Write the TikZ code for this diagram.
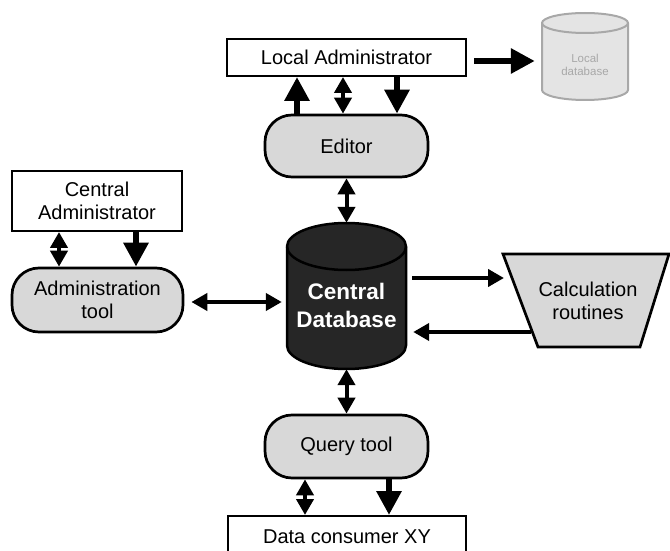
\documentclass[tikz,border=0pt]{standalone}
\usepackage{fontspec}
\setmainfont{Liberation Sans}
\usetikzlibrary{arrows.meta,calc}
\definecolor{boxgray}{HTML}{D8D8D8}
\definecolor{dbdark}{HTML}{262626}
\definecolor{ldbline}{HTML}{A8A8A8}
\definecolor{ldbfill}{HTML}{E4E4E4}
\begin{document}
\begin{tikzpicture}[x=1pt,y=1pt,
  every node/.style={font=\fontsize{20}{23.5}\selectfont, align=center, inner sep=0pt},
  plainbox/.style={draw, line width=2pt, fill=white},
  roundbox/.style={draw, line width=2.7pt, fill=boxgray, rounded corners=27pt},
  thickarr/.style={line width=6pt, -{Triangle[length=24pt,width=24pt]}},
  dblarr/.style={line width=4pt, {Triangle[length=16pt,width=17pt]}-{Triangle[length=16pt,width=17pt]}},
  thinarr/.style={line width=4.5pt, -{Triangle[length=16pt,width=17pt]}},
  ghost/.style={draw=none, fill=none},
]
\clip (0,0) rectangle (670,550);

% Local database cylinder (grey)
\draw[draw=ldbline, fill=ldbfill, line width=2pt]
  (542,527) -- (542,460) arc[start angle=180, end angle=360, x radius=43, y radius=10]
  -- (628,527) arc[start angle=0, end angle=180, x radius=43, y radius=10] -- cycle;
\draw[draw=ldbline, line width=2pt]
  (542,527) arc[start angle=180, end angle=360, x radius=43, y radius=10];
\node[ghost, minimum width=86, minimum height=87] (ldb) at (585,493.5) {};
\node[text=ldbline, font=\fontsize{11.5}{13}\selectfont] (ldbt) at (585,485) {Local\\database};

% Central database cylinder (dark)
\draw[draw=black, fill=dbdark, line width=2.5pt]
  (287,303.5) -- (287,204.5) arc[start angle=180, end angle=360, x radius=59.5, y radius=23.5]
  -- (406,303.5) arc[start angle=0, end angle=180, x radius=59.5, y radius=23.5] -- cycle;
\draw[draw=black, line width=2.5pt]
  (287,303.5) arc[start angle=180, end angle=360, x radius=59.5, y radius=23.5];
\node[ghost, minimum width=119, minimum height=146] (cdb) at (346.5,254) {};
\node[text=white, font=\fontsize{22.5}{28}\selectfont\bfseries] (cdbt) at (346.5,245) {Central\\Database};

% Calculation routines trapezoid
\draw[fill=boxgray, line width=2.7pt, line join=miter]
  (503,296) -- (669,296) -- (640,203) -- (538,203) -- cycle;
\node (calc) at (588,249) {Calculation\\routines};
\coordinate (calcin) at (504,272);
\coordinate (calcout) at (531,218);

% Boxes
\node[plainbox, minimum width=239, minimum height=37] (ladm) at (346.5,492.5) {Local Administrator};
\node[roundbox, minimum width=163, minimum height=62] (editor) at (346.5,404) {Editor};
\node[plainbox, minimum width=170, minimum height=60] (cadm) at (97,349) {Central\\Administrator};
\node[roundbox, minimum width=171, minimum height=64] (atool) at (97.5,250) {Administration\\tool};
\node[roundbox, minimum width=163, minimum height=63] (qtool) at (346.5,103.5) {Query tool};
\node[plainbox, minimum width=238, minimum height=44] (dcons) at (347,12) {};
\node (dconst) at (347,13) {Data consumer XY};

% Connectors
\draw[thickarr] ([xshift=-49.5pt]editor.north) -- ([xshift=-49.5pt]ladm.south);
\draw[dblarr] ([xshift=-3.5pt]ladm.south) -- ([xshift=-3.5pt]editor.north);
\draw[thickarr] ([xshift=50.5pt]ladm.south) -- ([xshift=50.5pt]editor.north);
\draw[thickarr, shorten <=7pt, shorten >=7pt] ([yshift=-3.5pt]ladm.east) -- ([yshift=-4.5pt]ldb.west);
\draw[dblarr] (editor.south) -- (cdb.north);
\draw[dblarr] ([xshift=-38pt]cadm.south) -- ([xshift=-38.5pt]atool.north);
\draw[thickarr] ([xshift=39pt]cadm.south) -- ([xshift=38.5pt]atool.north);
\draw[dblarr, shorten <=7pt, shorten >=5pt] ([yshift=-2pt]atool.east) -- ([yshift=-6pt]cdb.west);
\draw[thinarr, shorten <=6pt] ([yshift=18pt]cdb.east) -- (calcin);
\draw[thinarr, shorten >=7pt] (calcout) -- ([yshift=-36pt]cdb.east);
\draw[dblarr] (cdb.south) -- (qtool.north);
\draw[dblarr] ([xshift=-41.5pt]qtool.south) -- ([xshift=-42pt]dcons.north);
\draw[thickarr] ([xshift=42.5pt]qtool.south) -- ([xshift=42pt]dcons.north);
\end{tikzpicture}
\end{document}
